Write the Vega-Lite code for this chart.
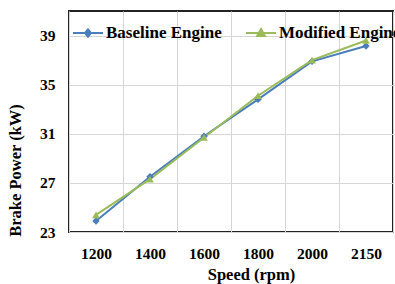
{
  "$schema": "https://vega.github.io/schema/vega-lite/v6.json",
  "width": 324,
  "height": 221,
  "autosize": {"type": "none"},
  "padding": {"left": 69, "top": 11, "right": 2, "bottom": 52},
  "background": "white",
  "config": {
    "view": {"stroke": "#222222", "strokeWidth": 2},
    "font": "Liberation Serif",
    "axis": {
      "labelFont": "Liberation Serif", "labelFontWeight": "bold", "labelFontSize": 15.5, "labelColor": "black",
      "titleFont": "Liberation Serif", "titleFontWeight": "bold", "titleFontSize": 16.5, "titleColor": "black",
      "gridColor": "#d6d6d6", "gridWidth": 1, "gridOpacity": 1, "domain": false
    },
    "axisX": {"grid": true, "gridColor": "#d6d6d6"},
    "axisBand": {"grid": true}
  },
  "data": {
    "values": [
      {"speed": "1200", "series": "Baseline Engine", "power": 23.9},
      {"speed": "1400", "series": "Baseline Engine", "power": 27.5},
      {"speed": "1600", "series": "Baseline Engine", "power": 30.8},
      {"speed": "1800", "series": "Baseline Engine", "power": 33.8},
      {"speed": "2000", "series": "Baseline Engine", "power": 36.9},
      {"speed": "2150", "series": "Baseline Engine", "power": 38.15},
      {"speed": "1200", "series": "Modified Engine", "power": 24.4},
      {"speed": "1400", "series": "Modified Engine", "power": 27.3},
      {"speed": "1600", "series": "Modified Engine", "power": 30.7},
      {"speed": "1800", "series": "Modified Engine", "power": 34.1},
      {"speed": "2000", "series": "Modified Engine", "power": 37.0},
      {"speed": "2150", "series": "Modified Engine", "power": 38.6}
    ]
  },
  "encoding": {
    "x": {
      "field": "speed", "type": "ordinal",
      "scale": {"type": "band", "paddingInner": 0, "paddingOuter": 0},
      "axis": {"title": "Speed (rpm)", "labelAngle": 0, "grid": true, "tickBand": "extent", "ticks": true, "tickSize": 0, "labelPadding": 14, "titleX": 182, "titleY": 34, "titleBaseline": "top"}
    },
    "y": {
      "field": "power", "type": "quantitative",
      "scale": {"domain": [23, 41], "nice": false, "zero": false},
      "axis": {"title": "Brake Power (kW)", "values": [23, 27, 31, 35, 39], "grid": true, "ticks": false, "labelPadding": 14, "titleX": -54, "titleY": 159, "titleBaseline": "middle"}
    }
  },
  "layer": [
    {
      "mark": {"type": "line", "strokeWidth": 2},
      "encoding": {
        "color": {
          "field": "series", "type": "nominal",
          "scale": {"domain": ["Baseline Engine", "Modified Engine"], "range": ["#4a7ebb", "#9bbb59"]},
          "legend": {
            "title": null, "orient": "none", "legendX": 3, "legendY": 6, "direction": "horizontal",
            "labelFont": "Liberation Serif", "labelFontWeight": "bold", "labelFontSize": 17, "labelColor": "black",
            "symbolSize": 900, "labelOffset": 2, "columnPadding": 20,
            "encode": {
              "symbols": {
                "update": {
                  "shape": {"signal": "datum.value === 'Baseline Engine' ? 'M-1,0H1M0,-0.24L0.2,0L0,0.24L-0.2,0Z' : 'M-1,0H1M0,-0.26L0.26,0.2L-0.26,0.2Z'"},
                  "fill": {"scale": "color", "field": "value"},
                  "stroke": {"scale": "color", "field": "value"},
                  "strokeWidth": {"value": 2},
                  "opacity": {"value": 1},
                  "fillOpacity": {"value": 1}
                }
              }
            }
          }
        }
      }
    },
    {
      "transform": [{"filter": "datum.series === 'Baseline Engine'"}],
      "mark": {"type": "point", "filled": true, "opacity": 1, "shape": "diamond", "size": 55, "color": "#4a7ebb"},
      "encoding": {}
    },
    {
      "transform": [{"filter": "datum.series === 'Modified Engine'"}],
      "mark": {"type": "point", "filled": true, "opacity": 1, "shape": "triangle-up", "size": 60, "color": "#9bbb59"},
      "encoding": {}
    }
  ]
}
